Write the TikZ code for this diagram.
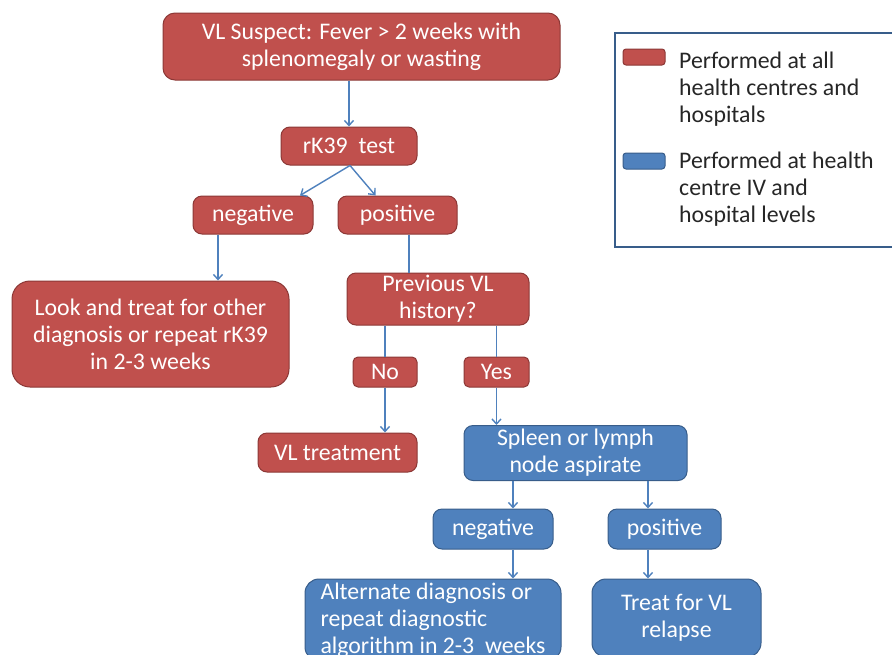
\documentclass[tikz,border=0pt]{standalone}
\usepackage{fontspec}
\setmainfont{Carlito}
\usepackage{xcolor}
\usetikzlibrary{arrows.meta}
\definecolor{vlred}{RGB}{192,80,77}
\definecolor{vlredline}{RGB}{140,56,54}
\definecolor{vlblue}{RGB}{79,129,189}
\definecolor{vlblueline}{RGB}{56,93,138}
\definecolor{linkblue}{RGB}{79,129,189}

\begin{document}
\begin{tikzpicture}[
  x=1pt, y=-1pt,
  every node/.style={rounded corners=9pt, align=center, inner sep=2pt, text=white, font=\fontsize{23.8}{27}\selectfont},
  redbox/.style={draw=vlredline, fill=vlred, line width=1pt},
  bluebox/.style={draw=vlblueline, fill=vlblue, line width=1pt},
  keytext/.style={text=black!85, align=left, anchor=west},
  joint/.style={draw=linkblue, line width=1.4pt},
  link/.style={joint, -{Straight Barb[length=5pt,width=9pt]}}
]
\clip (0,0) rectangle (892,654);

\node[redbox, rounded corners=12pt, minimum width=397pt, minimum height=67pt] (suspect) at (361.5,46.5) {VL Suspect: Fever > 2 weeks with\\splenomegaly or wasting};
\node[redbox, minimum width=136pt, minimum height=38pt] (rk) at (349,146) {rK39\ \ test};
\node[redbox, minimum width=120pt, minimum height=38pt] (negr) at (253,215) {negative};
\node[redbox, minimum width=119pt, minimum height=38pt] (posr) at (397.5,215) {positive};
\node[redbox, rounded corners=18pt, minimum width=277pt, minimum height=106pt] (look) at (150.5,334) {Look and treat for other\\diagnosis or repeat rK39\\in 2-3 weeks};
\node[redbox, minimum width=182pt, minimum height=52pt] (prev) at (438,299) {Previous VL\\history?};
\node[redbox, rounded corners=5pt, minimum width=64pt, minimum height=30pt] (no) at (385,372) {No};
\node[redbox, rounded corners=5pt, minimum width=65pt, minimum height=30pt] (yes) at (496.5,372) {Yes};
\node[redbox, minimum width=159pt, minimum height=39pt] (vlt) at (337.5,452.5) {VL treatment};
\node[bluebox, minimum width=223pt, minimum height=55pt] (spleen) at (575.5,453) {Spleen or lymph\\node aspirate};
\node[bluebox, minimum width=120pt, minimum height=40pt] (negb) at (493,529) {negative};
\node[bluebox, minimum width=113pt, minimum height=40pt] (posb) at (664.5,529) {positive};
\node[bluebox, rounded corners=14pt, align=left, minimum width=256pt, minimum height=82pt] (alt) at (433,620) {Alternate diagnosis or\\repeat diagnostic\\algorithm in 2-3\ \ weeks};
\node[bluebox, rounded corners=14pt, minimum width=169pt, minimum height=78pt] (treat) at (676.5,618) {Treat for VL\\relapse};

\draw[vlblueline, line width=1.5pt] (615,33) rectangle (900,247);
\node[redbox, rounded corners=3pt, inner sep=0pt, minimum width=42pt, minimum height=16pt] (keyred) at (644,57) {};
\node[bluebox, rounded corners=3pt, inner sep=0pt, minimum width=42pt, minimum height=16pt] (keyblue) at (644,161) {};
\node[keytext] (keyredtext) at (677,89) {Performed at all\\health centres and\\hospitals};
\node[keytext] (keybluetext) at (677,189) {Performed at health\\centre IV and\\hospital levels};

\coordinate (cneg) at (218,0);
\coordinate (cpos) at (409,0);
\coordinate (cspn) at (513,0);
\coordinate (cspp) at (648,0);

\draw[link] (suspect.south -| rk.north) -- (rk.north);
\draw[link] ([xshift=1pt]rk.south) -- ([xshift=47pt]negr.north);
\draw[link] ([xshift=1pt]rk.south) -- ([xshift=-22pt]posr.north);
\draw[link] (negr.south -| cneg) -- (look.north -| cneg);
\draw[joint] (posr.south -| cpos) -- (prev.north -| cpos);
\draw[joint] (prev.south -| no.north) -- (no.north);
\draw[joint] (prev.south -| yes.north) -- (yes.north);
\draw[link] (no.south) -- (vlt.north -| no.south);
\draw[link] (yes.south) -- (spleen.north -| yes.south);
\draw[link] (spleen.south -| cspn) -- (negb.north -| cspn);
\draw[link] (spleen.south -| cspp) -- (posb.north -| cspp);
\draw[link] (negb.south -| cspn) -- (alt.north -| cspn);
\draw[link] (posb.south -| cspp) -- (treat.north -| cspp);
\end{tikzpicture}
\end{document}
